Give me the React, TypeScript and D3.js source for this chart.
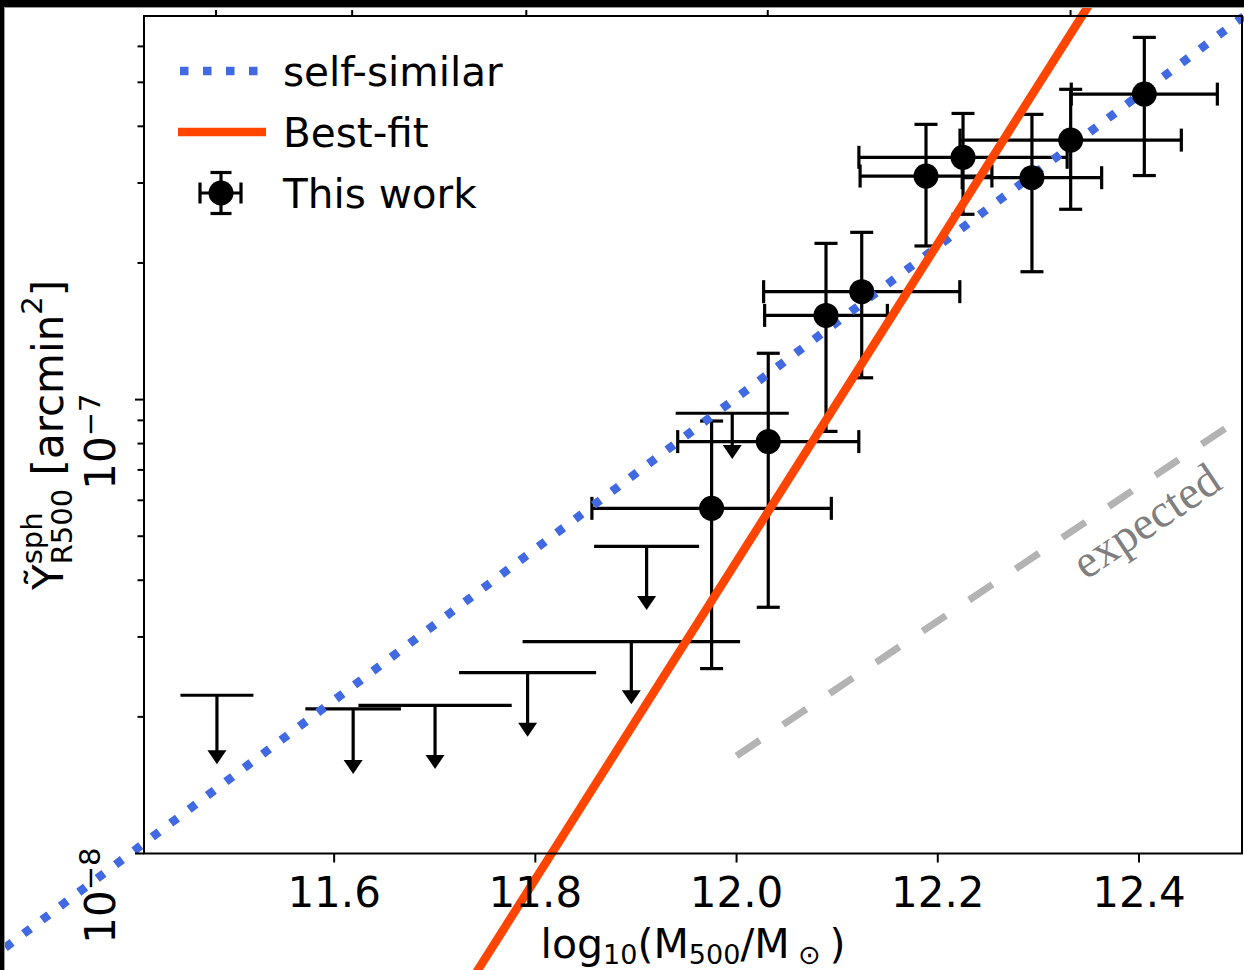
import React from "react";
import * as d3 from "d3";

// ---- data -------------------------------------------------------------

// detected stacks: log10(M500/Msun), Y and asymmetric errors
const detMass = [11.9752, 12.0315, 12.0889, 12.1244, 12.1883, 12.2251, 12.2936, 12.3321, 12.4053];
const detMassErr = [0.119, 0.09, 0.061, 0.0975, 0.0655, 0.1035, 0.0693, 0.11, 0.0726];
const detY = [5.76e-8, 8.08e-8, 1.533e-7, 1.729e-7, 3.108e-7, 3.418e-7, 3.082e-7, 3.73e-7, 4.71e-7];
const detYHigh = [8.97e-8, 1.265e-7, 2.209e-7, 2.336e-7, 4.04e-7, 4.27e-7, 4.25e-7, 4.826e-7, 6.28e-7];
const detYLow = [2.555e-8, 3.487e-8, 8.51e-8, 1.117e-7, 2.18e-7, 2.56e-7, 1.913e-7, 2.626e-7, 3.116e-7];

// upper limits: bin centre, half width, limit and arrow end
const limMass = [11.4835, 11.6189, 11.7003, 11.7923, 11.8954, 11.9106, 11.9957];
const limMassErr = [0.0363, 0.0475, 0.0762, 0.0681, 0.1081, 0.0522, 0.0562];
const limY = [2.232e-8, 2.082e-8, 2.121e-8, 2.503e-8, 2.929e-8, 4.751e-8, 9.33e-8];
const limArrowEnd = [1.573e-8, 1.497e-8, 1.536e-8, 1.809e-8, 2.132e-8, 3.44e-8, 7.4e-8];

// scaling relations: Y = norm * 10^(slope * (logM - pivot))
const pivotMass = 12.0;
const selfSimilar = { norm: 1.01e-7, slope: 5 / 3 };
const bestFit = { norm: 4.4e-8, slope: 3.5 };
const expected = { norm: 1.641e-8, slope: 1.485, from: 12.0, to: 12.5 };
const lineRange = [11.2, 12.7];

// axes
const xDomain = [11.411, 12.5024];
const yDomain = [1e-8, 7.0e-7];
const xTicks = [11.6, 11.8, 12.0, 12.2, 12.4];
const yMajorTicks = [1e-8, 1e-7];
const yMajorLabels = ["\u22128", "\u22127"];
const yMinorTicks = [2e-8, 3e-8, 4e-8, 5e-8, 6e-8, 7e-8, 8e-8, 9e-8, 2e-7, 3e-7, 4e-7, 5e-7, 6e-7];
const topTicks = [11.4826, 11.6179, 11.791, 12.031, 12.332];

const legendLabels = ["self-similar", "Best-fit", "This work"];

// ---- layout -----------------------------------------------------------

const W = 1244;
const H = 970;
const P = { left: 144, right: 1242, top: 16, bottom: 853.5 };
const FONT = "'DejaVu Sans', sans-serif";
const BLUE = "#4169e1";
const ORANGE = "#ff4500";
const EW = 3.2; // error bar width
const CAP = 11.5; // cap half length

const relation = (r: { norm: number; slope: number }) => (m: number) =>
  r.norm * Math.pow(10, r.slope * (m - pivotMass));

export default function App() {
  const x = d3.scaleLinear().domain(xDomain).range([P.left, P.right]);
  const y = d3.scaleLog().domain(yDomain).range([P.bottom, P.top]);

  const makeLine = (f: (m: number) => number) =>
    d3
      .line<number>()
      .x((m) => x(m))
      .y((m) => y(f(m)));

  const ssPath = makeLine(relation(selfSimilar))(lineRange) as string;
  const bfPath = makeLine(relation(bestFit))(lineRange) as string;
  const exPath = makeLine(relation(expected))([expected.from, expected.to]) as string;

  const exAngle =
    (Math.atan2(
      y(relation(expected)(expected.to)) - y(relation(expected)(expected.from)),
      x(expected.to) - x(expected.from)
    ) *
      180) /
    Math.PI;

  const legendX0 = 178;
  const legendX1 = 266;
  const legendRows = [71, 132, 193];
  const legendTextX = 283;

  return (
    <svg
      width={W}
      height={H}
      style={{ position: "absolute", left: 0, top: 0, background: "#fff" }}
      fontFamily={FONT}
    >
      <rect x={0} y={0} width={W} height={H} fill="#fff" />

      {/* upper limits */}
      <g stroke="#000" strokeWidth={EW} fill="none">
        {limMass.map((m, i) => {
          const cx = x(m);
          const cy = y(limY[i]);
          const tip = y(limArrowEnd[i]);
          return (
            <g key={"lim" + i}>
              <line x1={x(m - limMassErr[i])} x2={x(m + limMassErr[i])} y1={cy} y2={cy} />
              <line x1={cx} x2={cx} y1={cy} y2={tip - 10} />
              <path
                d={`M${cx - 9.5},${tip - 14} L${cx + 9.5},${tip - 14} L${cx},${tip} Z`}
                fill="#000"
                stroke="none"
              />
            </g>
          );
        })}
      </g>

      {/* error bars of detections */}
      <g stroke="#000" strokeWidth={EW} fill="none">
        {detMass.map((m, i) => {
          const cx = x(m);
          const cy = y(detY[i]);
          const xl = x(m - detMassErr[i]);
          const xr = x(m + detMassErr[i]);
          const yt = y(detYHigh[i]);
          const yb = y(detYLow[i]);
          return (
            <g key={"err" + i}>
              <line x1={xl} x2={xr} y1={cy} y2={cy} />
              <line x1={cx} x2={cx} y1={yt} y2={yb} />
              <line x1={xl} x2={xl} y1={cy - CAP} y2={cy + CAP} />
              <line x1={xr} x2={xr} y1={cy - CAP} y2={cy + CAP} />
              <line x1={cx - CAP} x2={cx + CAP} y1={yt} y2={yt} />
              <line x1={cx - CAP} x2={cx + CAP} y1={yb} y2={yb} />
            </g>
          );
        })}
      </g>

      {/* expected relation */}
      <path d={exPath} stroke="#b3b3b3" strokeWidth={7} strokeDasharray="28 28" fill="none" />
      <text
        transform={`translate(1155,534) rotate(${exAngle})`}
        textAnchor="middle"
        fontFamily="'Liberation Serif', 'Times New Roman', serif"
        fontSize={47}
        fill="#7f7f7f"
      >
        expected
      </text>

      {/* relations */}
      <path d={ssPath} stroke={BLUE} strokeWidth={8.5} strokeDasharray="8.5 14.5" fill="none" />
      <path d={bfPath} stroke={ORANGE} strokeWidth={8.5} fill="none" />

      {/* detection markers */}
      <g fill="#000">
        {detMass.map((m, i) => (
          <circle key={"pt" + i} cx={x(m)} cy={y(detY[i])} r={12.5} />
        ))}
      </g>

      {/* spines */}
      <rect
        x={P.left}
        y={P.top}
        width={P.right - P.left}
        height={P.bottom - P.top}
        fill="none"
        stroke="#000"
        strokeWidth={2}
      />

      {/* ticks */}
      <g stroke="#000" strokeWidth={2}>
        {xTicks.map((t) => (
          <line key={"xt" + t} x1={x(t)} x2={x(t)} y1={P.bottom} y2={P.bottom + 9} />
        ))}
        {topTicks.map((t) => (
          <line key={"tt" + t} x1={x(t)} x2={x(t)} y1={P.top} y2={P.top - 6} />
        ))}
        {yMajorTicks.map((t) => (
          <line key={"ym" + t} x1={P.left - 9} x2={P.left} y1={y(t)} y2={y(t)} />
        ))}
        {yMinorTicks.map((t) => (
          <line key={"yn" + t} x1={P.left - 6.5} x2={P.left} y1={y(t)} y2={y(t)} />
        ))}
      </g>
      <g fontSize={42} fill="#000" textAnchor="middle">
        {xTicks.map((t) => (
          <text key={"xl" + t} x={x(t)} y={907}>
            {d3.format(".1f")(t)}
          </text>
        ))}
      </g>
      {yMajorTicks.map((t, i) => (
        <text
          key={"yl" + t}
          transform={`translate(115,${y(t) - 6}) rotate(-90)`}
          textAnchor="end"
          fontSize={42}
          fill="#000"
        >
          10
          <tspan dy={-15} fontSize={29}>
            {yMajorLabels[i]}
          </tspan>
        </text>
      ))}

      {/* axis labels */}
      <text x={(P.left + P.right) / 2} y={958} textAnchor="middle" fontSize={41} fill="#000">
        log
        <tspan dy={6} fontSize={27}>10</tspan>
        <tspan dy={-6}>(M</tspan>
        <tspan dy={6} fontSize={27}>500</tspan>
        <tspan dy={-6}>/M</tspan>
        <tspan dy={6} fontSize={27}>{"\u00a0\u2299\u00a0"}</tspan>
        <tspan dy={-6}>)</tspan>
      </text>
      <text transform="translate(63,590) rotate(-90)" fontSize={42} fill="#000">
        {"\u1ef8"}
        <tspan dy={-21} fontSize={29}>sph</tspan>
        <tspan dx={-51.9} dy={30} fontSize={29}>R500</tspan>
        <tspan dy={-9}>{"\u00a0[arcmin"}</tspan>
        <tspan dy={-21} fontSize={29}>2</tspan>
        <tspan dy={21}>]</tspan>
      </text>

      {/* legend */}
      <line
        x1={legendX0 + 2}
        x2={legendX1}
        y1={legendRows[0]}
        y2={legendRows[0]}
        stroke={BLUE}
        strokeWidth={8.5}
        strokeDasharray="8.5 14.5"
      />
      <line
        x1={legendX0}
        x2={legendX1}
        y1={legendRows[1]}
        y2={legendRows[1]}
        stroke={ORANGE}
        strokeWidth={8.5}
      />
      <g stroke="#000" strokeWidth={EW}>
        <line x1={200} x2={241} y1={legendRows[2]} y2={legendRows[2]} />
        <line x1={221} x2={221} y1={legendRows[2] - 20.5} y2={legendRows[2] + 20.5} />
        <line x1={200} x2={200} y1={legendRows[2] - 10.5} y2={legendRows[2] + 10.5} />
        <line x1={241} x2={241} y1={legendRows[2] - 10.5} y2={legendRows[2] + 10.5} />
        <line x1={210.5} x2={231.5} y1={legendRows[2] - 20.5} y2={legendRows[2] - 20.5} />
        <line x1={210.5} x2={231.5} y1={legendRows[2] + 20.5} y2={legendRows[2] + 20.5} />
      </g>
      <circle cx={221} cy={legendRows[2]} r={12.5} fill="#000" />
      <g fontSize={40.5} fill="#000">
        {legendLabels.map((s, i) => (
          <text key={s} x={legendTextX} y={legendRows[i] + 15}>
            {s}
          </text>
        ))}
      </g>

      {/* outer border */}
      <rect x={0} y={0} width={W} height={7} fill="#000" />
      <line x1={0} x2={W} y1={7.5} y2={7.5} stroke="#9a9a9a" strokeWidth={1} />
      <rect x={0} y={0} width={4} height={H} fill="#000" />
      <line x1={4.5} x2={4.5} y1={7} y2={H} stroke="#9a9a9a" strokeWidth={1} />
    </svg>
  );
}
